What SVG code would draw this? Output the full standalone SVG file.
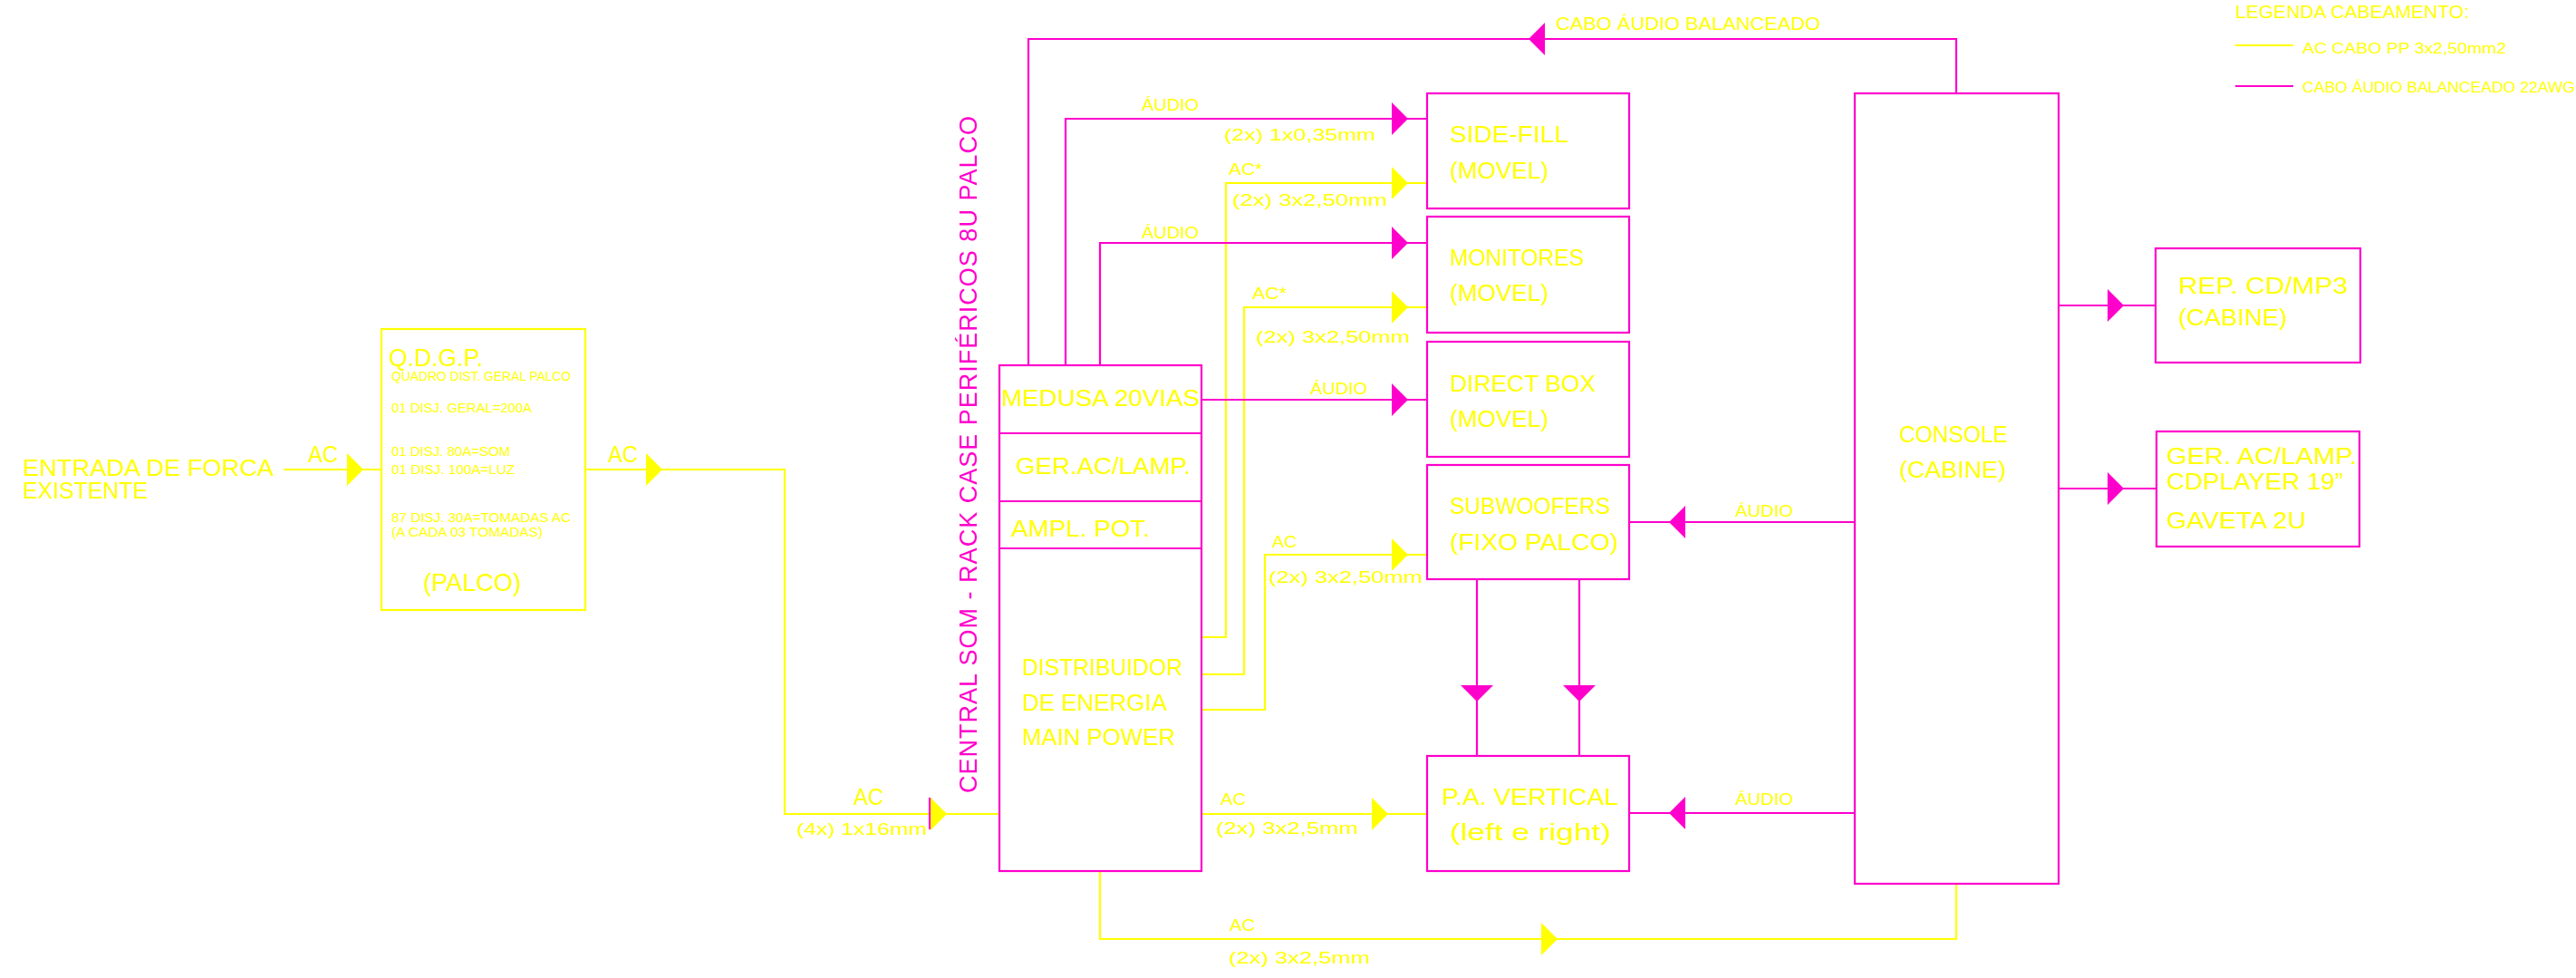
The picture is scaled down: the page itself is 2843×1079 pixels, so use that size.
<svg xmlns="http://www.w3.org/2000/svg" xmlns:xlink="http://www.w3.org/1999/xlink" width="2843" height="1079" viewBox="0 0 2843 1079">
<style>
.y{stroke:#FFFF00;stroke-width:2.2;fill:none}
.m{stroke:#FF00CC;stroke-width:2.2;fill:none}
.ay{fill:#FFFF00}
.am{fill:#FF00CC}
text{font-family:"Liberation Sans",Arial,sans-serif;fill:#FFFF00}
.tm{fill:#FF00CC}
.big{font-size:26px}
.box{font-size:25px}
.lbl{font-size:18px}
.sm{font-size:14px}
</style>
<defs>
<path id="ar" d="M0,-18 L18,0 L0,18 Z"/>
</defs>
<rect x="0" y="0" width="2843" height="1079" fill="#FFFFFF"/>

<g id="connectors">
  <!-- AC power lines -->
  <path class="y" d="M313,518 H421"/>
  <path class="y" d="M645,518 H866 V898 H1103"/>
  <path class="y" d="M1326,703 H1353 V202 H1575"/>
  <path class="y" d="M1326,744 H1373 V339 H1575"/>
  <path class="y" d="M1326,783 H1396 V612 H1575"/>
  <path class="y" d="M1326,898 H1575"/>
  <path class="y" d="M1214,961 V1036 H2159 V975"/>
  <!-- audio lines -->
  <path class="m" d="M1135,403 V43 H2159 V103"/>
  <path class="m" d="M1176,403 V131 H1575"/>
  <path class="m" d="M1214,403 V268 H1575"/>
  <path class="m" d="M1326,441 H1575"/>
  <path class="m" d="M2047,576 H1798"/>
  <path class="m" d="M2047,897 H1798"/>
  <path class="m" d="M1630,639 V834"/>
  <path class="m" d="M1743,639 V834"/>
  <path class="m" d="M2272,337 H2379"/>
  <path class="m" d="M2272,539 H2380"/>
  <path class="m" d="M1026,880 V915"/>
  <!-- arrowheads -->
  <use xlink:href="#ar" class="ay" transform="translate(383,518)"/>
  <use xlink:href="#ar" class="ay" transform="translate(713,518)"/>
  <use xlink:href="#ar" class="ay" transform="translate(1027,898)"/>
  <use xlink:href="#ar" class="ay" transform="translate(1536,202)"/>
  <use xlink:href="#ar" class="ay" transform="translate(1536,339)"/>
  <use xlink:href="#ar" class="ay" transform="translate(1536,612)"/>
  <use xlink:href="#ar" class="ay" transform="translate(1514,898)"/>
  <use xlink:href="#ar" class="ay" transform="translate(1701,1036)"/>
  <use xlink:href="#ar" class="am" transform="translate(1536,131)"/>
  <use xlink:href="#ar" class="am" transform="translate(1536,268)"/>
  <use xlink:href="#ar" class="am" transform="translate(1536,441)"/>
  <use xlink:href="#ar" class="am" transform="translate(2326,337)"/>
  <use xlink:href="#ar" class="am" transform="translate(2326,539)"/>
  <use xlink:href="#ar" class="am" transform="translate(1705,43) rotate(180)"/>
  <use xlink:href="#ar" class="am" transform="translate(1860,576) rotate(180)"/>
  <use xlink:href="#ar" class="am" transform="translate(1860,897) rotate(180)"/>
  <use xlink:href="#ar" class="am" transform="translate(1630,756) rotate(90)"/>
  <use xlink:href="#ar" class="am" transform="translate(1743,756) rotate(90)"/>
  <!-- connector labels -->
  <text class="big" x="340" y="510" textLength="33" lengthAdjust="spacingAndGlyphs">AC</text>
  <text class="big" x="671" y="510" textLength="33" lengthAdjust="spacingAndGlyphs">AC</text>
  <text class="big" x="942" y="888" textLength="33" lengthAdjust="spacingAndGlyphs">AC</text>
  <text x="879" y="921" font-size="19" textLength="144" lengthAdjust="spacingAndGlyphs">(4x) 1x16mm</text>
  <text class="lbl" x="1260" y="122" textLength="63" lengthAdjust="spacingAndGlyphs">ÁUDIO</text>
  <text class="lbl" x="1351" y="155" textLength="167" lengthAdjust="spacingAndGlyphs">(2x) 1x0,35mm</text>
  <text class="lbl" x="1356" y="193" textLength="37" lengthAdjust="spacingAndGlyphs">AC*</text>
  <text class="lbl" x="1360" y="227" textLength="171" lengthAdjust="spacingAndGlyphs">(2x) 3x2,50mm</text>
  <text class="lbl" x="1260" y="263" textLength="63" lengthAdjust="spacingAndGlyphs">ÁUDIO</text>
  <text class="lbl" x="1382" y="330" textLength="38" lengthAdjust="spacingAndGlyphs">AC*</text>
  <text class="lbl" x="1386" y="378" textLength="170" lengthAdjust="spacingAndGlyphs">(2x) 3x2,50mm</text>
  <text class="lbl" x="1446" y="435" textLength="63" lengthAdjust="spacingAndGlyphs">ÁUDIO</text>
  <text class="lbl" x="1404" y="604" textLength="27" lengthAdjust="spacingAndGlyphs">AC</text>
  <text class="lbl" x="1400" y="643" textLength="170" lengthAdjust="spacingAndGlyphs">(2x) 3x2,50mm</text>
  <text class="lbl" x="1347" y="888" textLength="28" lengthAdjust="spacingAndGlyphs">AC</text>
  <text class="lbl" x="1342" y="920" textLength="157" lengthAdjust="spacingAndGlyphs">(2x) 3x2,5mm</text>
  <text class="lbl" x="1357" y="1027" textLength="28" lengthAdjust="spacingAndGlyphs">AC</text>
  <text class="lbl" x="1356" y="1063" textLength="156" lengthAdjust="spacingAndGlyphs">(2x) 3x2,5mm</text>
  <text x="1717" y="33" font-size="20" textLength="292" lengthAdjust="spacingAndGlyphs">CABO ÁUDIO BALANCEADO</text>
  <text class="lbl" x="1915" y="570" textLength="64" lengthAdjust="spacingAndGlyphs">ÁUDIO</text>
  <text class="lbl" x="1915" y="888" textLength="64" lengthAdjust="spacingAndGlyphs">ÁUDIO</text>
</g>

<g id="entrada">
  <text class="box" x="25" y="525" textLength="277" lengthAdjust="spacingAndGlyphs">ENTRADA DE FORCA</text>
  <text class="box" x="25" y="550" textLength="138" lengthAdjust="spacingAndGlyphs">EXISTENTE</text>
</g>

<g id="qdgp">
  <rect class="y" x="421" y="363" width="225" height="310"/>
  <text x="429" y="404" font-size="27" textLength="104" lengthAdjust="spacingAndGlyphs">Q.D.G.P.</text>
  <text class="sm" x="432" y="420" textLength="198" lengthAdjust="spacingAndGlyphs">QUADRO DIST. GERAL PALCO</text>
  <text class="sm" x="432" y="455" textLength="155" lengthAdjust="spacingAndGlyphs">01 DISJ. GERAL=200A</text>
  <text class="sm" x="432" y="503" textLength="131" lengthAdjust="spacingAndGlyphs">01 DISJ. 80A=SOM</text>
  <text class="sm" x="432" y="523" textLength="136" lengthAdjust="spacingAndGlyphs">01 DISJ. 100A=LUZ</text>
  <text class="sm" x="432" y="576" textLength="198" lengthAdjust="spacingAndGlyphs">87 DISJ. 30A=TOMADAS AC</text>
  <text class="sm" x="432" y="592" textLength="167" lengthAdjust="spacingAndGlyphs">(A CADA 03 TOMADAS)</text>
  <text x="467" y="652" font-size="28" textLength="108" lengthAdjust="spacingAndGlyphs">(PALCO)</text>
</g>

<g id="rack">
  <text class="tm" font-size="27" transform="translate(1078,875) rotate(-90)" textLength="747" lengthAdjust="spacing">CENTRAL SOM - RACK CASE PERIFÉRICOS 8U PALCO</text>
  <rect class="m" x="1103" y="403" width="223" height="558"/>
  <path class="m" d="M1103,478 H1326 M1103,553 H1326 M1103,605 H1326"/>
  <text class="big" x="1105" y="448" textLength="219" lengthAdjust="spacingAndGlyphs">MEDUSA 20VIAS</text>
  <text class="big" x="1121" y="523" textLength="193" lengthAdjust="spacingAndGlyphs">GER.AC/LAMP.</text>
  <text class="big" x="1116" y="592" textLength="153" lengthAdjust="spacingAndGlyphs">AMPL. POT.</text>
  <text class="big" x="1128" y="745" textLength="177" lengthAdjust="spacingAndGlyphs">DISTRIBUIDOR</text>
  <text class="big" x="1128" y="784" textLength="160" lengthAdjust="spacingAndGlyphs">DE ENERGIA</text>
  <text class="big" x="1128" y="822" textLength="169" lengthAdjust="spacingAndGlyphs">MAIN POWER</text>
</g>

<g id="sidefill">
  <rect class="m" x="1575" y="103" width="223" height="127"/>
  <text class="box" x="1600" y="157" textLength="131" lengthAdjust="spacingAndGlyphs">SIDE-FILL</text>
  <text class="box" x="1600" y="197" textLength="109" lengthAdjust="spacingAndGlyphs">(MOVEL)</text>
</g>

<g id="monitores">
  <rect class="m" x="1575" y="239" width="223" height="128"/>
  <text class="box" x="1600" y="293" textLength="148" lengthAdjust="spacingAndGlyphs">MONITORES</text>
  <text class="box" x="1600" y="332" textLength="109" lengthAdjust="spacingAndGlyphs">(MOVEL)</text>
</g>

<g id="directbox">
  <rect class="m" x="1575" y="377" width="223" height="127"/>
  <text class="box" x="1600" y="432" textLength="161" lengthAdjust="spacingAndGlyphs">DIRECT BOX</text>
  <text class="box" x="1600" y="471" textLength="109" lengthAdjust="spacingAndGlyphs">(MOVEL)</text>
</g>

<g id="subwoofers">
  <rect class="m" x="1575" y="513" width="223" height="126"/>
  <text class="box" x="1600" y="567" textLength="177" lengthAdjust="spacingAndGlyphs">SUBWOOFERS</text>
  <text class="box" x="1600" y="607" textLength="186" lengthAdjust="spacingAndGlyphs">(FIXO PALCO)</text>
</g>

<g id="pavertical">
  <rect class="m" x="1575" y="834" width="223" height="127"/>
  <text class="box" x="1591" y="888" textLength="195" lengthAdjust="spacingAndGlyphs">P.A. VERTICAL</text>
  <text class="box" x="1600" y="927" textLength="178" lengthAdjust="spacingAndGlyphs">(left e right)</text>
</g>

<g id="console">
  <rect class="m" x="2047" y="103" width="225" height="872"/>
  <text class="box" x="2096" y="488" textLength="120" lengthAdjust="spacingAndGlyphs">CONSOLE</text>
  <text class="box" x="2096" y="527" textLength="118" lengthAdjust="spacingAndGlyphs">(CABINE)</text>
</g>

<g id="repcd">
  <rect class="m" x="2379" y="274" width="226" height="126"/>
  <text class="box" x="2404" y="324" textLength="187" lengthAdjust="spacingAndGlyphs">REP. CD/MP3</text>
  <text class="box" x="2404" y="359" textLength="120" lengthAdjust="spacingAndGlyphs">(CABINE)</text>
</g>

<g id="geraclamp">
  <rect class="m" x="2380" y="476" width="224" height="127"/>
  <text class="box" x="2391" y="512" textLength="210" lengthAdjust="spacingAndGlyphs">GER. AC/LAMP.</text>
  <text class="box" x="2391" y="540" textLength="195" lengthAdjust="spacingAndGlyphs">CDPLAYER 19”</text>
  <text class="box" x="2391" y="583" textLength="154" lengthAdjust="spacingAndGlyphs">GAVETA 2U</text>
</g>

<g id="legenda">
  <text x="2467" y="20" font-size="20" textLength="258" lengthAdjust="spacingAndGlyphs">LEGENDA CABEAMENTO:</text>
  <path class="y" d="M2467,50 H2531"/>
  <text x="2541" y="59" font-size="17" textLength="225" lengthAdjust="spacingAndGlyphs">AC CABO PP 3x2,50mm2</text>
  <path class="m" d="M2467,95 H2531"/>
  <text x="2541" y="102" font-size="17" textLength="301" lengthAdjust="spacingAndGlyphs">CABO ÁUDIO BALANCEADO 22AWG</text>
</g>
</svg>
